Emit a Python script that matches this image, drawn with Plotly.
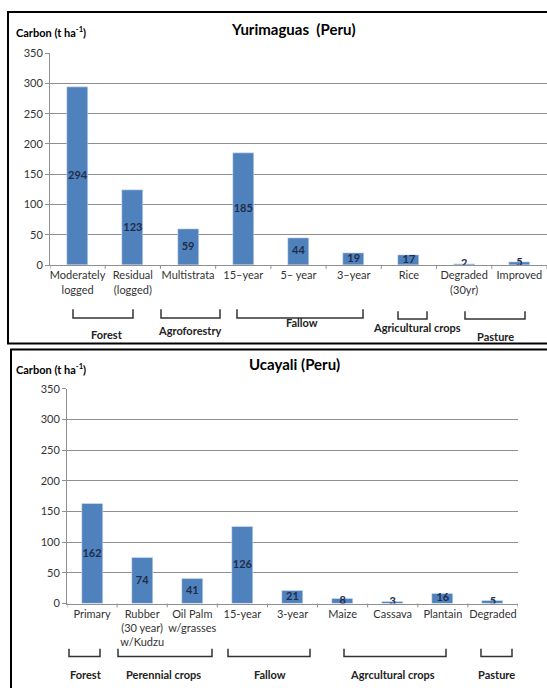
import plotly.graph_objects as go

# ---- data ----
yur_categories = ["Moderately<br>logged", "Residual<br>(logged)", "Multistrata", "15\u2013year",
                  "5\u2013 year", "3\u2013year", "Rice", "Degraded<br>(30yr)", "Improved"]
yur_values = [294, 123, 59, 185, 44, 19, 17, 2, 5]
yur_groups = ["Forest", "Agroforestry", "Fallow", "Agricultural crops", "Pasture"]

uca_categories = ["Primary", "Rubber<br>(30 year)<br>w/Kudzu", "Oil Palm<br>w/grasses", "15-year",
                  "3-year", "Maize", "Cassava", "Plantain", "Degraded"]
uca_values = [162, 74, 41, 126, 21, 8, 3, 16, 5]
uca_groups = ["Forest", "Perennial crops", "Fallow", "Agrcultural crops", "Pasture"]

y_ticks = [0, 50, 100, 150, 200, 250, 300, 350]

W, H = 547, 688
FONT = "Lato, 'Open Sans', sans-serif"
BAR = "#4f81bd"
LABEL = "#1f2d4a"
GRID = "#8f8f8f"


def px(x):
    return x / W


def py(y):
    return 1 - y / H


fig = go.Figure()

# bars
fig.add_trace(go.Bar(x=list(range(len(yur_values))), y=yur_values, marker_color=BAR,
                     width=0.38, xaxis="x", yaxis="y", showlegend=False, hoverinfo="skip"))
fig.add_trace(go.Bar(x=list(range(len(uca_values))), y=uca_values, marker_color=BAR,
                     width=0.42, xaxis="x2", yaxis="y2", showlegend=False, hoverinfo="skip"))

# value labels centred in each bar
fig.add_trace(go.Scatter(x=list(range(len(yur_values))), y=[v / 2 for v in yur_values],
                         text=[str(v) for v in yur_values], mode="text",
                         textfont=dict(family=FONT, size=11, color=LABEL, weight="bold"),
                         xaxis="x", yaxis="y", showlegend=False, hoverinfo="skip"))
fig.add_trace(go.Scatter(x=list(range(len(uca_values))), y=[v / 2 for v in uca_values],
                         text=[str(v) for v in uca_values], mode="text",
                         textfont=dict(family=FONT, size=11, color=LABEL, weight="bold"),
                         xaxis="x2", yaxis="y2", showlegend=False, hoverinfo="skip"))

axis_common = dict(showline=True, linecolor=GRID, linewidth=1,
                   tickcolor=GRID, ticklen=4, tickfont=dict(family=FONT, size=11, color="#333333"))

fig.update_layout(
    width=W, height=H, margin=dict(l=0, r=0, t=0, b=0),
    paper_bgcolor="white", plot_bgcolor="white", bargap=0,
    xaxis=dict(domain=[px(50), px(547)], range=[-0.5, 8.5], tickmode="array",
               tickvals=list(range(9)), ticktext=yur_categories, showgrid=False, ticks="",
               anchor="y", **axis_common),
    yaxis=dict(domain=[py(263), py(47)], range=[0, 350], tickvals=y_ticks, ticks="outside",
               showgrid=True, gridcolor=GRID, gridwidth=1, anchor="x", **axis_common),
    xaxis2=dict(domain=[px(67), px(518)], range=[-0.5, 8.5], tickmode="array",
                tickvals=list(range(9)), ticktext=uca_categories, showgrid=False, ticks="",
                anchor="y2", **axis_common),
    yaxis2=dict(domain=[py(608), py(389)], range=[0, 350], tickvals=y_ticks, ticks="outside",
                showgrid=True, gridcolor=GRID, gridwidth=1, anchor="x2", **axis_common),
)

# boundary ticks on the category axes (drawn between categories)
for xa, ya in (("x", "y"), ("x2", "y2")):
    for b in range(10):
        fig.add_shape(type="line", xref=xa, yref=f"{ya} domain", x0=b - 0.5, x1=b - 0.5,
                      y0=0, y1=-0.018, line=dict(color=GRID, width=1))

shapes = []
annots = []


def label(text, x, y, size=11, color="#222222", xanchor="center"):
    return dict(text=text, x=px(x), y=py(y), xref="paper", yref="paper",
                xanchor=xanchor, yanchor="middle", showarrow=False,
                font=dict(family=FONT, size=size, color=color))


# panel borders
shapes.append(dict(type="rect", xref="paper", yref="paper", x0=px(8), x1=px(560),
                   y0=py(343), y1=py(5), line=dict(color="black", width=2)))
shapes.append(dict(type="rect", xref="paper", yref="paper", x0=px(11), x1=px(560),
                   y0=py(700), y1=py(349), line=dict(color="black", width=2)))

# titles
annots.append(label("<b>Yurimaguas  (Peru)</b>", 293, 22, size=15, color="black"))
annots.append(label("<b>Ucayali (Peru)</b>", 294, 364, size=15, color="black"))
for yy in (25, 368):
    annots.append(label("<b>Carbon (t ha<sup>-1</sup>)</b>", 14, yy, color="black",
                        xanchor="left"))


def bracket(x0, x1, ytop, ybot):
    path = (f"M {px(x0)} {py(ytop)} L {px(x0)} {py(ybot)} "
            f"L {px(x1)} {py(ybot)} L {px(x1)} {py(ytop)}")
    return dict(type="path", xref="paper", yref="paper", path=path,
                line=dict(color="#333333", width=1.5))


# group brackets and labels, top panel
top_brackets = [(73, 133, 308, 317), (161, 220, 308, 317), (237, 363, 308, 317),
                (398, 427, 310, 318), (465, 525, 310, 318)]
top_label_pos = [(107, 334), (190, 330), (302, 322), (417, 327), (495, 336)]
for (x0, x1, yt, yb), name, (lx, ly) in zip(top_brackets, yur_groups, top_label_pos):
    shapes.append(bracket(x0, x1, yt, yb))
    annots.append(label(f"<b>{name}</b>", lx, ly))

# group brackets and labels, bottom panel
bot_brackets = [(69, 100, 654, 662), (118, 212, 654, 662), (228, 310, 654, 662),
                (344, 446, 654, 662), (481, 512, 654, 662)]
bot_label_pos = [(86, 680), (163, 680), (270, 680), (392, 680), (496, 680)]
for (x0, x1, yt, yb), name, (lx, ly) in zip(bot_brackets, uca_groups, bot_label_pos):
    shapes.append(bracket(x0, x1, yt, yb))
    annots.append(label(f"<b>{name}</b>", lx, ly))

for s in shapes:
    fig.add_shape(**s)
for a in annots:
    fig.add_annotation(**a)

fig.write_html("out.html")
